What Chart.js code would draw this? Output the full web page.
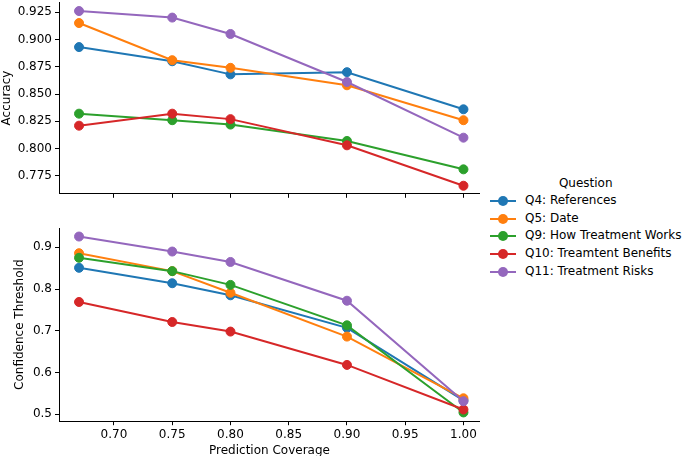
<!DOCTYPE html>
<html>
<head>
<meta charset="utf-8">
<script src="https://cdn.jsdelivr.net/npm/chart.js@4.4.1/dist/chart.umd.min.js"></script>
<style>
  body { margin: 0; background: #fff; }
  #fig { position: relative; width: 685px; height: 456px; overflow: hidden; font-family: 'DejaVu Sans', sans-serif; }
  #topBox { position: absolute; left: 0; top: -8px; width: 480px; height: 212px; }
  #botBox { position: absolute; left: 0; top: 218px; width: 480px; height: 240px; }
  #legend { position: absolute; left: 490px; top: 174px; font-size: 12px; color: #000; }
  #legend .title { text-align: center; height: 18px; line-height: 18px; }
  #legend .item { height: 17.7px; line-height: 17.7px; white-space: nowrap; display: flex; align-items: center; }
  #legend .handle { position: relative; width: 26px; height: 10px; margin-right: 9px; }
  #legend .handle .ln { position: absolute; left: 0; top: 4px; width: 26px; height: 2px; }
  #legend .handle .dot { position: absolute; left: 8px; top: 0; width: 10px; height: 10px; border-radius: 50%; }
</style>
</head>
<body>
<div id="fig">
  <div id="topBox"><canvas id="accuracyChart"></canvas></div>
  <div id="botBox"><canvas id="thresholdChart"></canvas></div>
  <div id="legend"></div>
</div>
<script>
// --- DADOS ---
const coverage = [0.67, 0.75, 0.80, 0.90, 1.00];
const questions = ['Q4: References', 'Q5: Date', 'Q9: How Treatment Works', 'Q10: Treamtent Benefits', 'Q11: Treatment Risks'];
const colors = ['#1f77b4', '#ff7f0e', '#2ca02c', '#d62728', '#9467bd'];

// Accuracy (top panel)
const accuracyQ4 = [0.893, 0.880, 0.868, 0.870, 0.836];
const accuracyQ5 = [0.915, 0.881, 0.874, 0.858, 0.826];
const accuracyQ9 = [0.832, 0.826, 0.822, 0.807, 0.781];
const accuracyQ10 = [0.821, 0.832, 0.827, 0.803, 0.766];
const accuracyQ11 = [0.926, 0.920, 0.905, 0.861, 0.810];

// Confidence threshold (bottom panel)
const thresholdQ4 = [0.851, 0.814, 0.785, 0.707, 0.533];
const thresholdQ5 = [0.886, 0.843, 0.791, 0.686, 0.538];
const thresholdQ9 = [0.875, 0.843, 0.810, 0.713, 0.504];
const thresholdQ10 = [0.769, 0.721, 0.698, 0.618, 0.511];
const thresholdQ11 = [0.926, 0.890, 0.865, 0.772, 0.531];

const accuracyTicks = [0.775, 0.800, 0.825, 0.850, 0.875, 0.900, 0.925];
const thresholdTicks = [0.5, 0.6, 0.7, 0.8, 0.9];
const coverageTicks = [0.70, 0.75, 0.80, 0.85, 0.90, 0.95, 1.00];

const accuracySeries = [accuracyQ4, accuracyQ5, accuracyQ9, accuracyQ10, accuracyQ11];
const thresholdSeries = [thresholdQ4, thresholdQ5, thresholdQ9, thresholdQ10, thresholdQ11];

Chart.defaults.font.family = "'DejaVu Sans', sans-serif";
Chart.defaults.font.size = 12;
Chart.defaults.color = '#000';

function buildDatasets(series) {
    return series.map((vals, i) => ({
        label: questions[i],
        data: vals.map((v, j) => ({ x: coverage[j], y: v })),
        borderColor: colors[i],
        backgroundColor: colors[i],
        pointBackgroundColor: colors[i],
        pointBorderColor: colors[i],
        borderWidth: 2,
        pointRadius: 4.5,
        pointBorderWidth: 1,
        clip: false,
        order: series.length - 1 - i
    }));
}

function xScale(showLabels) {
    return {
        type: 'linear',
        min: 0.6528,
        max: 1.0142,
        afterBuildTicks: s => { s.ticks = coverageTicks.map(v => ({ value: v })); },
        grid: { drawOnChartArea: false, drawTicks: true, tickLength: 4, color: '#000' },
        border: { color: '#000', width: 1 },
        ticks: { display: showLabels, padding: 2, maxRotation: 0, callback: v => v.toFixed(2) },
        title: { display: showLabels, text: 'Prediction Coverage', padding: { top: 0, bottom: 0 } }
    };
}

function yScale(min, max, ticks, digits, title, width) {
    return {
        type: 'linear',
        min: min,
        max: max,
        afterBuildTicks: s => { s.ticks = ticks.map(v => ({ value: v })); },
        afterFit: s => { s.width = width; },
        grid: { drawOnChartArea: false, drawTicks: true, tickLength: 4, color: '#000' },
        border: { color: '#000', width: 1 },
        ticks: { padding: 3, callback: v => v.toFixed(digits) },
        title: { display: true, text: title, padding: { top: 0, bottom: 0 } }
    };
}

const commonOptions = {
    responsive: true,
    maintainAspectRatio: false,
    animation: false,
    plugins: { legend: { display: false }, tooltip: { enabled: false } }
};

new Chart(document.getElementById('accuracyChart'), {
    type: 'line',
    data: { datasets: buildDatasets(accuracySeries) },
    options: {
        ...commonOptions,
        layout: { autoPadding: false, padding: { left: 0, right: 0, top: 0, bottom: 0 } },
        scales: {
            x: xScale(false),
            y: yScale(0.7586, 0.9341, accuracyTicks, 3, 'Accuracy', 59)
        }
    }
});

new Chart(document.getElementById('thresholdChart'), {
    type: 'line',
    data: { datasets: buildDatasets(thresholdSeries) },
    options: {
        ...commonOptions,
        layout: { autoPadding: false, padding: { left: 13, right: 0, top: 0, bottom: 0 } },
        scales: {
            x: xScale(true),
            y: yScale(0.483, 0.946, thresholdTicks, 1, 'Confidence Threshold', 46)
        }
    }
});

// --- LEGENDA ---
const legend = document.getElementById('legend');
let html = '<div class="title">Question</div>';
questions.forEach((q, i) => {
    html += '<div class="item"><span class="handle"><span class="ln" style="background:' + colors[i] + '"></span>' +
        '<span class="dot" style="background:' + colors[i] + '"></span></span>' + q + '</div>';
});
legend.innerHTML = html;
</script>
</body>
</html>
